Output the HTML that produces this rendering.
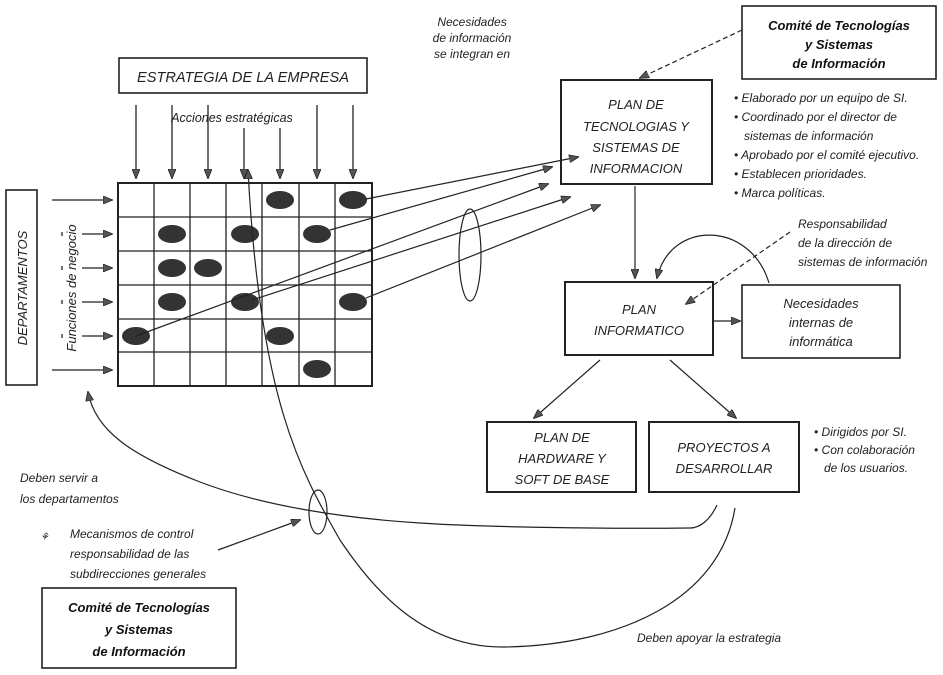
<!DOCTYPE html>
<html><head><meta charset="utf-8"><style>
html,body{margin:0;padding:0;background:#fff;width:943px;height:675px;overflow:hidden}
svg{display:block}
text{font-family:"Liberation Sans",sans-serif;font-style:italic;fill:#222}
.b{font-weight:bold;fill:#111}
</style></head><body>
<svg width="943" height="675" viewBox="0 0 943 675" xmlns="http://www.w3.org/2000/svg">
<defs>
<marker id="a" markerWidth="10" markerHeight="8" refX="9" refY="4" orient="auto" markerUnits="userSpaceOnUse">
<path d="M0,0 L10,4 L0,8 Z" fill="#555" stroke="#222" stroke-width="0.8"/></marker>
</defs>
<g stroke="#222" fill="none" stroke-width="1.3">
<rect x="119" y="58" width="248" height="35" stroke-width="1.6"/>
<line x1="136" y1="105" x2="136" y2="178" marker-end="url(#a)"/>
<line x1="172" y1="105" x2="172" y2="178" marker-end="url(#a)"/>
<line x1="208" y1="105" x2="208" y2="178" marker-end="url(#a)"/>
<line x1="244" y1="128" x2="244" y2="178" marker-end="url(#a)"/>
<line x1="280" y1="128" x2="280" y2="178" marker-end="url(#a)"/>
<line x1="317" y1="105" x2="317" y2="178" marker-end="url(#a)"/>
<line x1="353" y1="105" x2="353" y2="178" marker-end="url(#a)"/>
<rect x="6" y="190" width="31" height="195" stroke-width="1.6"/>
<line x1="52" y1="200" x2="112" y2="200" marker-end="url(#a)"/>
<line x1="82" y1="234" x2="112" y2="234" marker-end="url(#a)"/>
<line x1="82" y1="268" x2="112" y2="268" marker-end="url(#a)"/>
<line x1="82" y1="302" x2="112" y2="302" marker-end="url(#a)"/>
<line x1="82" y1="336" x2="112" y2="336" marker-end="url(#a)"/>
<line x1="52" y1="370" x2="112" y2="370" marker-end="url(#a)"/>
<line x1="62" y1="232" x2="62" y2="236"/><line x1="62" y1="266" x2="62" y2="270"/><line x1="62" y1="300" x2="62" y2="304"/><line x1="62" y1="334" x2="62" y2="338"/>
<rect x="118" y="183" width="254" height="203" stroke-width="2"/>
<path d="M154,183V386M190,183V386M226,183V386M262,183V386M299,183V386M335,183V386M118,217H372M118,251H372M118,285H372M118,319H372M118,352H372"/>
</g>
<g fill="#333">
<ellipse cx="280" cy="200" rx="14" ry="9"/><ellipse cx="353" cy="200" rx="14" ry="9"/>
<ellipse cx="172" cy="234" rx="14" ry="9"/><ellipse cx="245" cy="234" rx="14" ry="9"/><ellipse cx="317" cy="234" rx="14" ry="9"/>
<ellipse cx="172" cy="268" rx="14" ry="9"/><ellipse cx="208" cy="268" rx="14" ry="9"/>
<ellipse cx="172" cy="302" rx="14" ry="9"/><ellipse cx="245" cy="302" rx="14" ry="9"/><ellipse cx="353" cy="302" rx="14" ry="9"/>
<ellipse cx="136" cy="336" rx="14" ry="9"/><ellipse cx="280" cy="336" rx="14" ry="9"/>
<ellipse cx="317" cy="369" rx="14" ry="9"/>
</g>
<g stroke="#222" fill="none" stroke-width="1.2">
<line x1="366" y1="199" x2="578" y2="157" marker-end="url(#a)"/>
<line x1="330" y1="230" x2="552" y2="167" marker-end="url(#a)"/>
<line x1="136" y1="336" x2="548" y2="184" marker-end="url(#a)"/>
<line x1="252" y1="300" x2="570" y2="197" marker-end="url(#a)"/>
<line x1="366" y1="298" x2="600" y2="205" marker-end="url(#a)"/>
<ellipse cx="470" cy="255" rx="11" ry="46"/>
<rect x="742" y="6" width="194" height="73" stroke-width="1.6"/>
<rect x="561" y="80" width="151" height="104" stroke-width="2"/>
<line x1="742" y1="30" x2="640" y2="78" stroke-dasharray="5,3" marker-end="url(#a)"/>
<line x1="635" y1="186" x2="635" y2="278" marker-end="url(#a)"/>
<rect x="565" y="282" width="148" height="73" stroke-width="2"/>
<rect x="742" y="285" width="158" height="73" stroke-width="1.6"/>
<line x1="714" y1="321" x2="740" y2="321" marker-end="url(#a)"/>
<path d="M769,283 C750,220 670,220 657,278" marker-end="url(#a)"/>
<line x1="790" y1="232" x2="686" y2="304" stroke-dasharray="5,3" marker-end="url(#a)"/>
<line x1="600" y1="360" x2="534" y2="418" marker-end="url(#a)"/>
<line x1="670" y1="360" x2="736" y2="418" marker-end="url(#a)"/>
<rect x="487" y="422" width="149" height="70" stroke-width="2"/>
<rect x="649" y="422" width="150" height="70" stroke-width="2"/>
<path d="M717,505 C710,520 700,528 690,528 C600,529 480,527 420,523 C340,518 260,505 200,482 C130,455 95,430 88,392" marker-end="url(#a)"/>
<path d="M735,508 C720,600 620,645 505,647 C430,648 380,600 340,540 C300,470 260,400 248,170" marker-end="url(#a)"/>
<ellipse cx="318" cy="512" rx="9" ry="22"/>
<line x1="218" y1="550" x2="300" y2="520" marker-end="url(#a)"/>
<rect x="42" y="588" width="194" height="80" stroke-width="1.6"/>
</g>
<text x="243" y="82" font-size="15" text-anchor="middle" textLength="212" lengthAdjust="spacingAndGlyphs">ESTRATEGIA DE LA EMPRESA</text>
<text x="232" y="122" font-size="12.5" text-anchor="middle">Acciones estratégicas</text>
<text transform="translate(27,288) rotate(-90)" font-size="13" text-anchor="middle">DEPARTAMENTOS</text>
<text transform="translate(76,288) rotate(-90)" font-size="13" text-anchor="middle">Funciones de negocio</text>
<text x="472" y="26" font-size="12" text-anchor="middle">Necesidades</text>
<text x="472" y="42" font-size="12" text-anchor="middle">de información</text>
<text x="472" y="58" font-size="12" text-anchor="middle">se integran en</text>
<text class="b" x="839" y="30" font-size="13" text-anchor="middle">Comité de Tecnologías</text>
<text class="b" x="839" y="49" font-size="13" text-anchor="middle">y Sistemas</text>
<text class="b" x="839" y="68" font-size="13" text-anchor="middle">de Información</text>
<g font-size="13" text-anchor="middle">
<text x="636" y="109">PLAN DE</text><text x="636" y="131">TECNOLOGIAS Y</text><text x="636" y="152">SISTEMAS DE</text><text x="636" y="173">INFORMACION</text>
<text x="639" y="314">PLAN</text><text x="639" y="335">INFORMATICO</text>
<text x="821" y="308">Necesidades</text><text x="821" y="327">internas de</text><text x="821" y="346">informática</text>
<text x="562" y="442">PLAN DE</text><text x="562" y="463">HARDWARE Y</text><text x="562" y="484">SOFT DE BASE</text>
<text x="724" y="452">PROYECTOS A</text><text x="724" y="473">DESARROLLAR</text>
</g>
<g font-size="12">
<text x="734" y="102">•  Elaborado por un equipo de SI.</text>
<text x="734" y="121">•  Coordinado por el director de</text>
<text x="744" y="140">sistemas de información</text>
<text x="734" y="159">•  Aprobado por el comité ejecutivo.</text>
<text x="734" y="178">•  Establecen prioridades.</text>
<text x="734" y="197">•  Marca políticas.</text>
<text x="798" y="228">Responsabilidad</text>
<text x="798" y="247">de la dirección de</text>
<text x="798" y="266">sistemas de información</text>
<text x="814" y="436">•  Dirigidos por SI.</text>
<text x="814" y="454">•  Con colaboración</text>
<text x="824" y="472">de los usuarios.</text>
<text x="20" y="482">Deben servir a</text>
<text x="20" y="503">los departamentos</text>
<text x="70" y="538">Mecanismos de control</text>
<text x="70" y="558">responsabilidad de las</text>
<text x="70" y="578">subdirecciones generales</text>
<text x="637" y="642">Deben apoyar la estrategia</text>
</g>
<text x="40" y="540" font-size="10">⚘</text>
<text class="b" x="139" y="612" font-size="13" text-anchor="middle">Comité de Tecnologías</text>
<text class="b" x="139" y="634" font-size="13" text-anchor="middle">y Sistemas</text>
<text class="b" x="139" y="656" font-size="13" text-anchor="middle">de Información</text>
</svg>
</body></html>
